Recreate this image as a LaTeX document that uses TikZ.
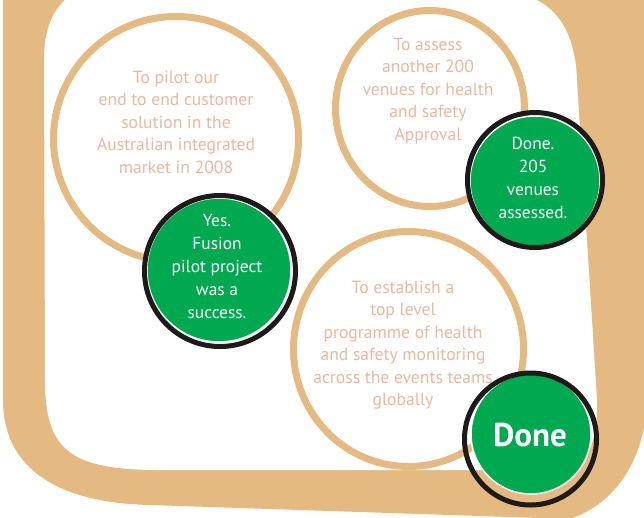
\documentclass[tikz,border=0pt]{standalone}
\usepackage{fontspec}
\setmainfont{PT Sans}
\usetikzlibrary{shapes.geometric}
\definecolor{sand}{RGB}{228,186,130}
\definecolor{peach}{RGB}{233,184,158}
\definecolor{leaf}{RGB}{0,168,80}
\definecolor{rimblack}{RGB}{30,26,26}
\tikzset{
  goal/.style={ellipse, draw=sand, line width=7pt, inner sep=0pt},
  goaltext/.style={align=center, text=peach, inner sep=0pt, font=\fontsize{17.6}{22.5}\selectfont},
  badge/.style={circle, fill=leaf, draw=white, line width=1.5pt, inner sep=0pt},
  badgetext/.style={align=center, text=white, inner sep=0pt, font=\fontsize{17.4}{23}\selectfont},
  rim/.style={draw=rimblack, line width=5pt},
}
\begin{document}
\begin{tikzpicture}[x=1pt,y=-1pt]
\useasboundingbox (0,0) rectangle (644,517);
        \coordinate (pilot) at (176, 139);
        \coordinate (assess) at (430, 108.5);
        \coordinate (establish) at (408.5, 349);
        \coordinate (yes) at (219, 270);
        \coordinate (venues) at (535, 181);
        \coordinate (done) at (531, 434);
        % frame
        \fill[sand] (3,-5) -- (3,400) .. controls (3,470) and (60,503) .. (150,505) -- (330,511) -- (570,519) .. controls (610,505) and (640,470) .. (647,410) -- (650,-5) -- cycle;
        \fill[white] (45,380) -- (44,60) .. controls (44,25) and (55,5) .. (75,-8) -- (500,-8) .. controls (545,-8) and (575,20) .. (577,80) -- (597,400) .. controls (597,455) and (585,470) .. (540,470) -- (160,470) .. controls (70,470) and (45,450) .. (45,380) -- cycle;
        % goals
        \node[goal, minimum width=245pt, minimum height=245pt] (r1) at (pilot) {};
        \node[goal, minimum width=189pt, minimum height=196pt] (r2) at (assess) {};
        \node[goal, minimum width=230pt, minimum height=235pt] (r3) at (establish) {};
        \node[goaltext] (t1) at (176, 122) {To pilot our\\end to end customer\\solution in the\\Australian integrated\\market in 2008};
        \node[goaltext] (t2) at (428, 91) {To assess\\another 200\\venues for health\\and safety\\Approval};
        \node[goaltext] (t3) at (403, 345) {To establish a\\top level\\programme of health\\and safety monitoring\\across the events teams\\globally};
        % results
        \node[badge, minimum size=144pt] (g1) at (yes) {};
        \node[badge, minimum size=130pt] (g2) at (venues) {};
        \node[badge, minimum size=120pt] (g3) at (done) {};
        \draw[rim] (220, 271) circle (75.5pt);
        \draw[rim] (535, 180) circle (67.5pt);
        \draw[rim] (530.5, 439) circle (66pt);
        \node[badgetext] (b1) at (217, 267) {Yes.\\Fusion\\pilot project\\was a\\success.};
        \node[badgetext] (b2) at (533, 178) {Done.\\205\\venues\\assessed.};
        \node[badgetext, font=\fontsize{33}{33}\selectfont\bfseries] (b3) at (530, 435) {Done};
\end{tikzpicture}
\end{document}
